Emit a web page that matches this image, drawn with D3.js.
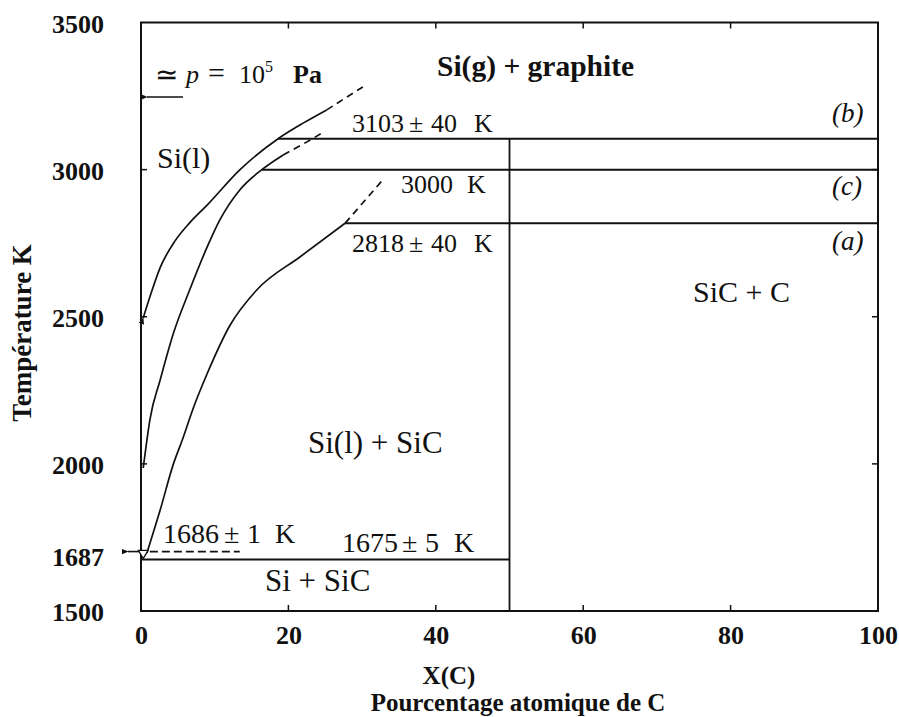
<!DOCTYPE html>
<html><head><meta charset="utf-8">
<script src="https://cdn.jsdelivr.net/npm/d3@7/dist/d3.min.js"></script>
<style>
body{margin:0;background:#fff}
svg{display:block}
text{font-family:"Liberation Serif","Times New Roman",serif;fill:#111}
</style>
</head><body>
<svg id="chart" width="899" height="717"></svg>
<script>
// ---------- data ----------
const xTicks = [0, 20, 40, 60, 80, 100];
const yTicks = [1500, 1687, 2000, 2500, 3000, 3500];
// curves: [X(C) %, T K]
const curveB     = [[0.3,2496],[1.2,2567],[2.6,2667],[4.6,2757],[6.6,2819],[9.0,2880],[13.4,2999],[18.6,3105],[22.0,3158],[25.2,3203]];
const curveBDash = [[25.2,3203],[27.7,3243],[30.1,3281]];
const curveC     = [[0.3,1986],[0.8,2081],[1.2,2149],[2.6,2285],[4.4,2444],[6.6,2591],[9.1,2744],[10.7,2829],[13.4,2931],[16.4,3000],[19.3,3050]];
const curveCDash = [[19.3,3050],[22.0,3087],[24.6,3125]];
const curveA     = [[0.8,1697],[2.6,1843],[4.4,2000],[5.6,2081],[7.1,2190],[9.0,2308],[12.1,2472],[15.7,2591],[21.6,2704],[27.7,2818]];
const curveADash = [[27.7,2818],[32.8,2965]];
// isotherms (b), (c), (a)
const isoT      = [3105, 3000, 2818];
const isoX0     = [18.6, 16.4, 27.7];
const isoNum    = ["3103", "3000", "2818"];
const isoErr    = ["40", "", "40"];
const isoTags   = ["(b)", "(c)", "(a)"];
// low temperature lines
const eutecticT = 1675, eutecticNum = "1675", eutecticErr = "5";
const meltT = 1702, meltX1 = 13.4, meltNum = "1686", meltErr = "1";
const sicX = 50;
const pressureT = 3247;
const regionLabels = ["Si(g) + graphite", "Si(l)", "Si(l) + SiC", "SiC + C", "Si + SiC"];

// ---------- chart ----------
const svg = d3.select("#chart");
const x = d3.scaleLinear().domain([0, 100]).range([141, 878]);
const y = d3.scaleLinear().domain([1500, 3500]).range([611, 22.5]);
const ink = "#111";

const defs = svg.append("defs");
defs.append("marker").attr("id","arr").attr("viewBox","0 0 10 10").attr("refX",1).attr("refY",5)
  .attr("markerWidth",7).attr("markerHeight",7).attr("markerUnits","userSpaceOnUse")
  .attr("orient","auto-start-reverse")
  .append("path").attr("d","M0,5 L10,1 L10,9 Z").attr("fill",ink);

// frame
svg.append("rect").attr("x", x(0)).attr("y", y(3500)).attr("width", x(100)-x(0)).attr("height", y(1500)-y(3500))
  .attr("fill","none").attr("stroke",ink).attr("stroke-width",2);

// inward ticks
const tk = 6;
xTicks.filter(d => d > 0 && d < 100).forEach(d => {
  svg.append("line").attr("x1",x(d)).attr("x2",x(d)).attr("y1",y(1500)).attr("y2",y(1500)-tk).attr("stroke",ink).attr("stroke-width",1.5);
  svg.append("line").attr("x1",x(d)).attr("x2",x(d)).attr("y1",y(3500)).attr("y2",y(3500)+tk).attr("stroke",ink).attr("stroke-width",1.5);
});
yTicks.filter(d => d > 1500 && d < 3500 && d !== 1687).forEach(d => {
  svg.append("line").attr("x1",x(0)).attr("x2",x(0)+tk).attr("y1",y(d)).attr("y2",y(d)).attr("stroke",ink).attr("stroke-width",1.5);
  svg.append("line").attr("x1",x(100)).attr("x2",x(100)-tk).attr("y1",y(d)).attr("y2",y(d)).attr("stroke",ink).attr("stroke-width",1.5);
});

// axes labels
const yAxis = svg.append("g").attr("transform",`translate(${x(0)},0)`)
  .call(d3.axisLeft(y).tickValues(yTicks).tickSize(0).tickPadding(37).tickFormat(d3.format("d")));
yAxis.select(".domain").remove();
yAxis.selectAll("text").attr("dy","0.38em").style("font-family",'"Liberation Serif",serif')
  .style("font-size","26px").style("font-weight","bold").attr("fill",ink);

const xAxis = svg.append("g").attr("transform",`translate(0,${y(1500)})`)
  .call(d3.axisBottom(x).tickValues(xTicks).tickSize(0).tickPadding(15).tickFormat(d3.format("d")));
xAxis.select(".domain").remove();
xAxis.selectAll("text").style("font-family",'"Liberation Serif",serif')
  .style("font-size","26px").style("font-weight","bold").attr("fill",ink);

svg.append("text").attr("x",449).attr("y",684).attr("text-anchor","middle")
  .style("font-size","25px").style("font-weight","bold").text("X(C)");
svg.append("text").attr("x",518).attr("y",711).attr("text-anchor","middle")
  .style("font-size","25px").style("font-weight","bold").text("Pourcentage atomique de C");
svg.append("text").attr("transform","translate(31,333) rotate(-90)").attr("text-anchor","middle")
  .style("font-size","27px").style("font-weight","bold").text("Température K");

// lines
const line = d3.line().x(d => x(d[0])).y(d => y(d[1])).curve(d3.curveMonotoneX);
const drawCurve = (pts, dashed, markStart) => {
  const p = svg.append("path").datum(pts).attr("d", line).attr("fill","none")
    .attr("stroke", ink).attr("stroke-width", 1.7);
  if (dashed) p.attr("stroke-dasharray","7,5");
  if (markStart) p.attr("marker-start","url(#arr)");
};
drawCurve(curveB, false, true);
drawCurve(curveBDash, true);
drawCurve(curveC, false);
drawCurve(curveCDash, true);
drawCurve(curveA, false);
drawCurve(curveADash, true);

isoT.forEach((t, i) => {
  svg.append("line").attr("x1", x(isoX0[i])).attr("x2", x(100)).attr("y1", y(t)).attr("y2", y(t))
    .attr("stroke", ink).attr("stroke-width", 2);
});
svg.append("line").attr("x1", x(sicX)).attr("x2", x(sicX)).attr("y1", y(isoT[0])).attr("y2", y(1500))
  .attr("stroke", ink).attr("stroke-width", 1.8);
svg.append("line").attr("x1", x(0)).attr("x2", x(sicX)).attr("y1", y(eutecticT)).attr("y2", y(eutecticT))
  .attr("stroke", ink).attr("stroke-width", 2);
svg.append("line").attr("x1", x(1.2)).attr("x2", x(meltX1)).attr("y1", y(meltT)).attr("y2", y(meltT))
  .attr("stroke", ink).attr("stroke-width", 1.7).attr("stroke-dasharray","8,4");

// arrows at the left axis
svg.append("line").attr("x1", x(0)-13).attr("x2", x(0)).attr("y1", y(meltT)).attr("y2", y(meltT))
  .attr("stroke", ink).attr("stroke-width", 1.6).attr("marker-start","url(#arr)");
svg.append("line").attr("x1", x(0)+6).attr("x2", x(0)+42).attr("y1", y(pressureT)).attr("y2", y(pressureT))
  .attr("stroke", ink).attr("stroke-width", 1.6).attr("marker-start","url(#arr)");
// small open triangle at the foot of curve (a)
svg.append("path").attr("d", d3.symbol(d3.symbolTriangle, 40)())
  .attr("transform", `translate(${x(0.3)},${y(1700)+1}) rotate(180)`)
  .attr("fill","#fff").attr("stroke",ink).attr("stroke-width",1.3);

// annotations
const T = (xx, yy, txt, size, opts = {}) => {
  const t = svg.append("text").attr("x", xx).attr("y", yy).style("font-size", size + "px").text(txt);
  if (opts.bold) t.style("font-weight","bold");
  if (opts.italic) t.style("font-style","italic");
  return t;
};
T(437, 76, regionLabels[0], 29.5, {bold:true});
T(157, 168, regionLabels[1], 30);
T(308, 453, regionLabels[2], 31);
T(693, 302, regionLabels[3], 30);
T(265, 591, regionLabels[4], 31);

// "value ± err K" label built from pieces
const PM = (x0, yy, num, err, size, gaps) => {
  const t = svg.append("text").attr("y", yy).style("font-size", size + "px");
  t.append("tspan").attr("x", x0).text(num);
  if (err) {
    t.append("tspan").attr("x", x0 + gaps[0]).text("\u00b1");
    t.append("tspan").attr("x", x0 + gaps[1]).text(err);
  }
  t.append("tspan").attr("x", x0 + gaps[2]).text("K");
};
PM(352, 132, isoNum[0], isoErr[0], 26, [57, 79, 122]);
PM(401, 193, isoNum[1], isoErr[1], 26, [0, 0, 66]);
PM(352, 252, isoNum[2], isoErr[2], 26, [57, 79, 122]);
PM(163, 543, meltNum, meltErr, 28, [61, 84, 112]);
PM(342, 552, eutecticNum, eutecticErr, 28, [60, 83, 112]);

T(832, 122, isoTags[0], 27, {italic:true});
T(832, 195, isoTags[1], 27, {italic:true});
T(832, 250, isoTags[2], 27, {italic:true});

// pressure label
T(155, 84, "\u2243", 28);
const pl = svg.append("text").attr("y", 83).style("font-size","26px");
pl.append("tspan").attr("x", 186).style("font-style","italic").text("p");
pl.append("tspan").attr("x", 208).style("font-size","30px").text("=");
pl.append("tspan").attr("x", 239).text("10");
pl.append("tspan").attr("x", 265).attr("dy", -11).style("font-size","16px").text("5");
pl.append("tspan").attr("x", 293).attr("dy", 11).style("font-weight","bold").text("Pa");
</script>
</body></html>
